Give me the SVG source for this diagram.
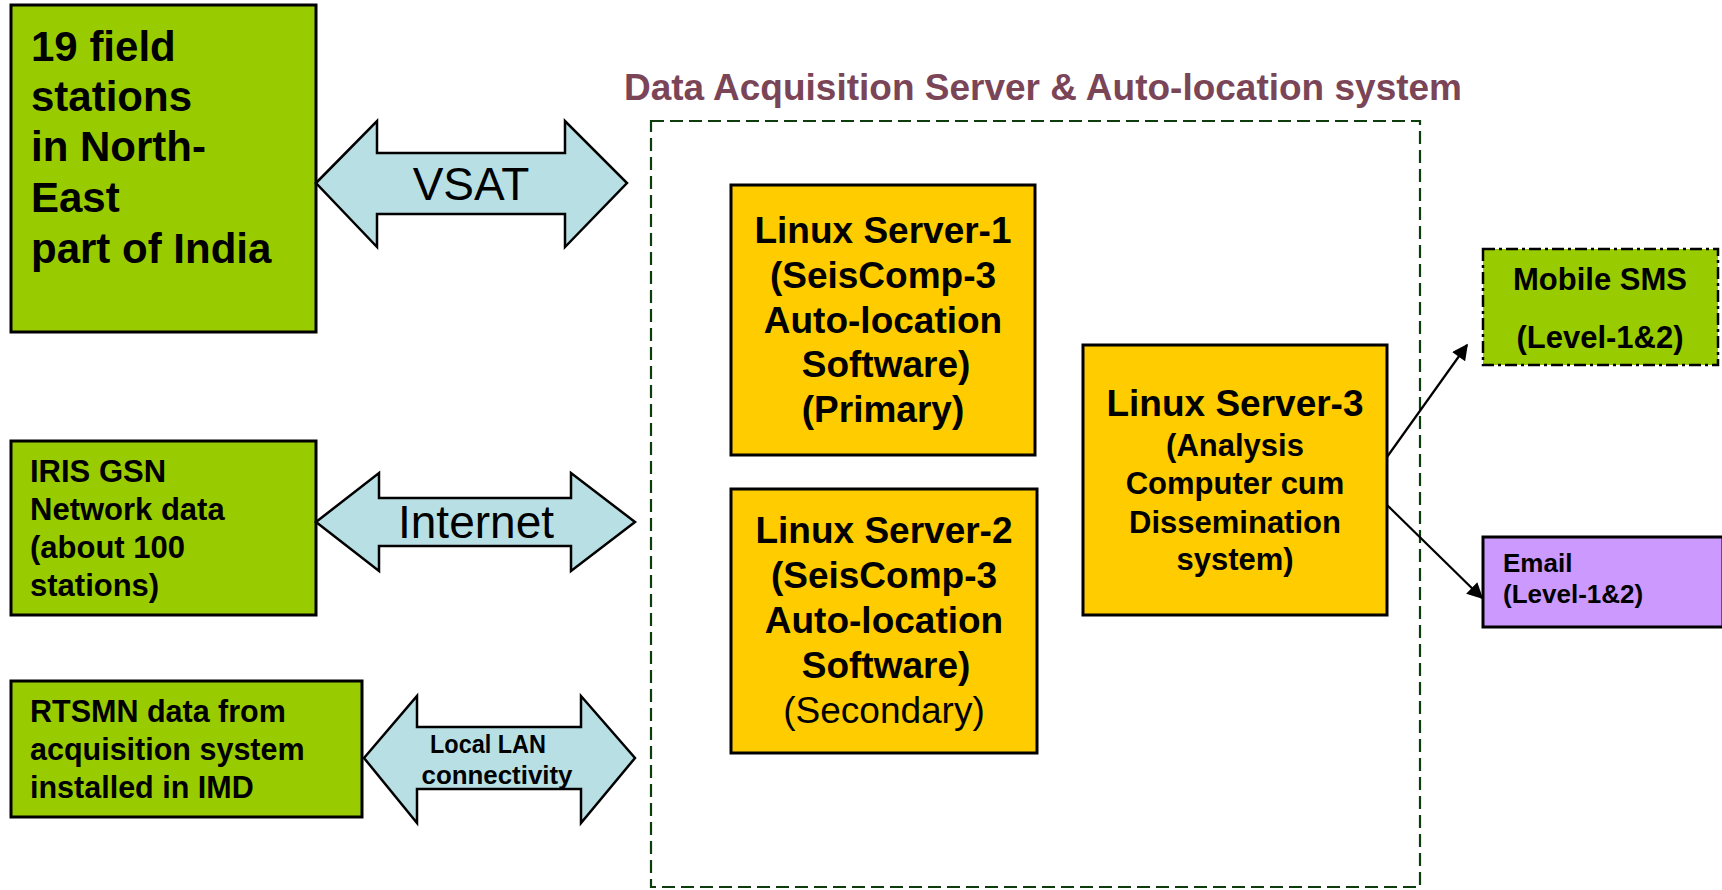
<svg xmlns="http://www.w3.org/2000/svg" width="1722" height="890" viewBox="0 0 1722 890">
<style>
.g{fill:#99cc00;stroke:#000;stroke-width:3}
.y{fill:#ffcc00;stroke:#000;stroke-width:3}
.arr{fill:#b8e0e4;stroke:#000;stroke-width:2.5;stroke-linejoin:miter}
.b{font-family:"Liberation Sans",Arial,sans-serif;font-weight:bold;fill:#000}
.r{font-family:"Liberation Sans",Arial,sans-serif;font-weight:normal;fill:#000}
.c{text-anchor:middle}
.con{stroke:#000;stroke-width:2.2;fill:none}
</style>
<defs>
<marker id="ah2" viewBox="0 0 10 10" refX="9" refY="5" markerWidth="18" markerHeight="16" markerUnits="userSpaceOnUse" orient="auto">
<path d="M0,0 L10,5 L0,10 z" fill="#000"/>
</marker>
</defs>
<rect width="1722" height="890" fill="#fff"/>

<g id="title">
<text class="b" x="1043" y="100" font-size="36" text-anchor="middle" style="fill:#7b4558" textLength="838" lengthAdjust="spacingAndGlyphs">Data Acquisition Server &amp; Auto-location system</text>
</g>

<g id="container">
<rect x="651" y="121" width="769" height="766" fill="none" stroke="#0d3d0d" stroke-width="2.2" stroke-dasharray="13 6"/>
</g>

<g id="field-stations">
<rect class="g" x="11" y="5" width="305" height="327"/>
<text class="b" font-size="42"><tspan x="31" y="61">19 field</tspan><tspan x="31" y="111">stations</tspan><tspan x="31" y="161">in North-</tspan><tspan x="31" y="212">East</tspan><tspan x="31" y="263">part of India</tspan></text>
</g>

<g id="iris">
<rect class="g" x="11" y="441" width="305" height="174"/>
<text class="b" font-size="31"><tspan x="30" y="482">IRIS GSN</tspan><tspan x="30" y="520">Network data</tspan><tspan x="30" y="558">(about 100</tspan><tspan x="30" y="596">stations)</tspan></text>
</g>

<g id="rtsmn">
<rect class="g" x="11" y="681" width="351" height="136"/>
<text class="b" font-size="30.5"><tspan x="30" y="722">RTSMN data from</tspan><tspan x="30" y="760">acquisition system</tspan><tspan x="30" y="798">installed in IMD</tspan></text>
</g>

<g id="server1">
<rect class="y" x="731" y="185" width="304" height="270"/>
<text class="b c" font-size="37"><tspan x="883" y="243">Linux Server-1</tspan><tspan x="883" y="288">(SeisComp-3</tspan><tspan x="883" y="333">Auto-location</tspan><tspan x="886" y="377">Software)</tspan><tspan x="883" y="422">(Primary)</tspan></text>
</g>

<g id="server2">
<rect class="y" x="731" y="489" width="306" height="264"/>
<text class="b c" font-size="37"><tspan x="884" y="543">Linux Server-2</tspan><tspan x="884" y="588">(SeisComp-3</tspan><tspan x="884" y="633">Auto-location</tspan><tspan x="886" y="678">Software)</tspan></text>
<text class="r c" font-size="37" x="884" y="723">(Secondary)</text>
</g>

<g id="server3">
<rect class="y" x="1083" y="345" width="304" height="270"/>
<text class="b c" font-size="37" x="1235" y="416">Linux Server-3</text>
<text class="b c" font-size="31"><tspan x="1235" y="456">(Analysis</tspan><tspan x="1235" y="494">Computer cum</tspan><tspan x="1235" y="533">Dissemination</tspan><tspan x="1235" y="570">system)</tspan></text>
</g>

<g id="sms">
<rect x="1483" y="249" width="235" height="116" fill="#99cc00" stroke="#000" stroke-width="2.5" stroke-dasharray="12 4 3 4"/>
<text class="b c" font-size="31"><tspan x="1600" y="290">Mobile SMS</tspan><tspan x="1600" y="348">(Level-1&amp;2)</tspan></text>
</g>

<g id="email">
<rect x="1483" y="537" width="240" height="90" fill="#cc99ff" stroke="#000" stroke-width="3"/>
<text class="b" font-size="26"><tspan x="1503" y="572">Email</tspan><tspan x="1503" y="603">(Level-1&amp;2)</tspan></text>
</g>

<g id="connectors">
<g id="vsat">
<path class="arr" d="M316,183 L377,121 L377,153 L565,153 L565,121 L627,183 L565,247 L565,214 L377,214 L377,247 Z"/>
<text class="r c" font-size="46" x="471" y="200">VSAT</text>
</g>
<g id="internet">
<path class="arr" d="M316,522 L379,473 L379,498 L571,498 L571,473 L635,522 L571,571 L571,546 L379,546 L379,571 Z"/>
<text class="r c" font-size="46" x="476" y="538">Internet</text>
</g>
<g id="lan">
<path class="arr" d="M364,758 L417,696 L417,727 L581,727 L581,696 L635,758 L581,823 L581,789 L417,789 L417,823 Z"/>
<text class="b c" font-size="25"><tspan x="488" y="753" textLength="116" lengthAdjust="spacingAndGlyphs">Local LAN</tspan><tspan x="497" y="784" textLength="151" lengthAdjust="spacingAndGlyphs">connectivity</tspan></text>
</g>
<line class="con" x1="1387" y1="457" x2="1467" y2="345" marker-end="url(#ah2)"/>
<line class="con" x1="1387" y1="505" x2="1482" y2="598" marker-end="url(#ah2)"/>
</g>
</svg>
